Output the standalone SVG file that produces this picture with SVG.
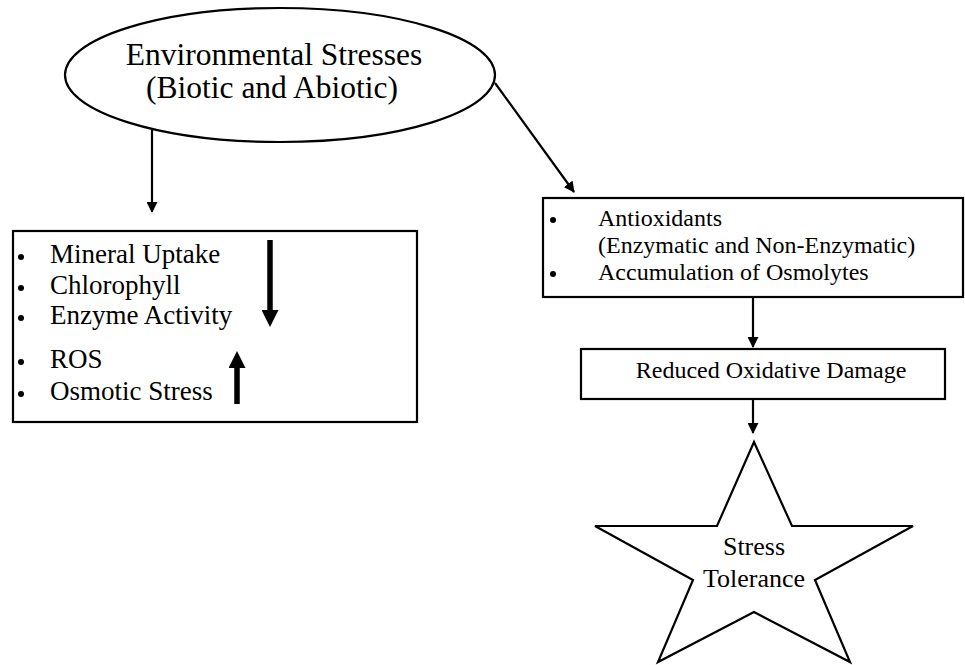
<svg xmlns="http://www.w3.org/2000/svg" width="965" height="665" viewBox="0 0 965 665">
<defs>
<marker id="ah" markerWidth="11" markerHeight="11" refX="10" refY="5.5" orient="auto" markerUnits="userSpaceOnUse">
<path d="M0,0 L11,5.5 L0,11 Z" fill="#000"/>
</marker>
<marker id="ahb" markerWidth="17" markerHeight="17" refX="1" refY="8.5" orient="auto" markerUnits="userSpaceOnUse">
<path d="M0,0 L17,8.5 L0,17 Z" fill="#000"/>
</marker>
</defs>
<style>
text{font-family:"Liberation Serif","Times New Roman",serif;fill:#000}
.shape{fill:#fff;stroke:#000;stroke-width:2.2}
.conn{stroke:#000;stroke-width:2.2;fill:none;marker-end:url(#ah)}
.thick{stroke:#000;stroke-width:5.5;fill:none;marker-end:url(#ahb)}
.t1{font-size:31.5px}
.t2{font-size:27px}
.t3{font-size:24px}
.t5{font-size:26px}
</style>
<rect width="965" height="665" fill="#fff"/>
<g id="env">
<ellipse class="shape" cx="280" cy="75" rx="215" ry="67"/>
<text class="t1" x="274" y="65" text-anchor="middle">Environmental Stresses</text>
<text class="t1" x="272" y="98" text-anchor="middle">(Biotic and Abiotic)</text>
</g>
<g id="effects">
<rect class="shape" x="13" y="231" width="404" height="191"/>
<g class="t2">
<circle cx="21" cy="257" r="3"/><text x="50" y="263">Mineral Uptake</text>
<circle cx="21" cy="288" r="3"/><text x="50" y="294">Chlorophyll</text>
<circle cx="21" cy="318" r="3"/><text x="50" y="324">Enzyme Activity</text>
<circle cx="21" cy="362" r="3"/><text x="50" y="368">ROS</text>
<circle cx="21" cy="394" r="3"/><text x="50" y="400">Osmotic Stress</text>
</g>
<line class="thick" x1="270" y1="240" x2="270" y2="311"/>
<line class="thick" x1="237" y1="404" x2="237" y2="367"/>
</g>
<g id="responses">
<rect class="shape" x="543" y="198" width="420" height="99"/>
<g class="t3">
<circle cx="553" cy="220" r="3"/><text x="598" y="226">Antioxidants</text>
<text x="598" y="253">(Enzymatic and Non-Enzymatic)</text>
<circle cx="553" cy="274" r="3"/><text x="598" y="280">Accumulation of Osmolytes</text>
</g>
</g>
<g id="reduced">
<rect class="shape" x="581" y="349" width="364" height="50"/>
<text class="t3" x="771" y="378" text-anchor="middle">Reduced Oxidative Damage</text>
</g>
<g id="tolerance">
<polygon class="shape" points="754,442 792,526 913,526 815,580 850,662 754,612 658,662 693,580 595,526 717,526"/>
<text class="t5" x="754" y="555" text-anchor="middle">Stress</text>
<text class="t5" x="754" y="587" text-anchor="middle">Tolerance</text>
</g>
<g id="connectors">
<line class="conn" x1="152" y1="130" x2="152" y2="212"/>
<line class="conn" x1="495" y1="83" x2="574" y2="192"/>
<line class="conn" x1="753" y1="297" x2="753" y2="347"/>
<line class="conn" x1="753" y1="399" x2="753" y2="433"/>
</g>
</svg>
